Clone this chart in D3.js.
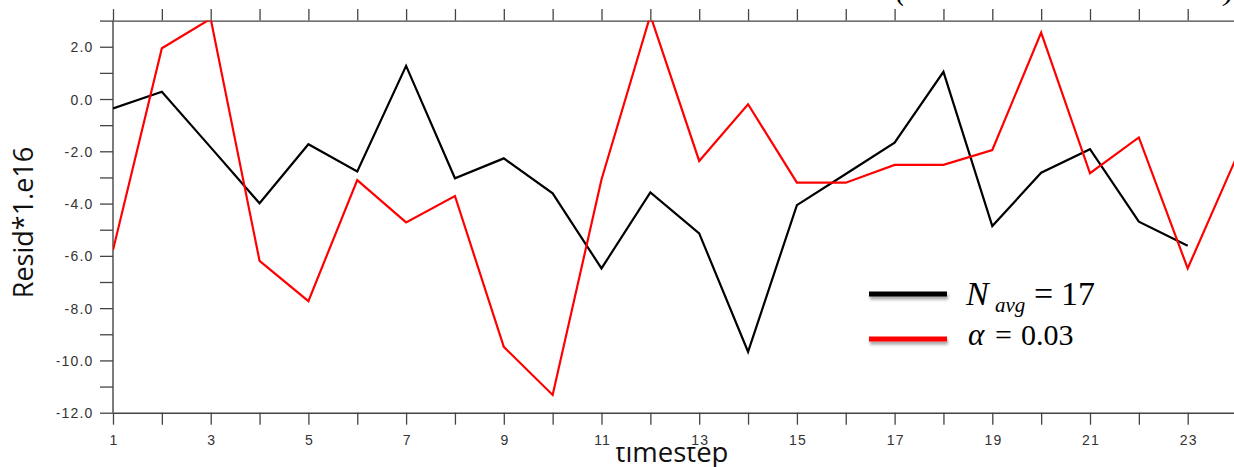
<!DOCTYPE html>
<html>
<head>
<meta charset="utf-8">
<script src="https://cdn.jsdelivr.net/npm/d3@7"></script>
<style>
  html, body { margin: 0; padding: 0; background: #fff; }
  svg { display: block; }
</style>
</head>
<body>
<svg id="chart" width="1234" height="467"></svg>
<script>
// Timesteps along the horizontal axis
const timesteps = d3.range(1, 25);

// Residual (scaled by 1e16) for the N_avg = 17 run
const residNavg = [
  -0.36, 0.28, -1.85, -3.99, -1.73, -2.77, 1.27, -3.03, -2.27, -3.61,
  -6.48, -3.57, -5.14, -9.67, -4.06, -2.87, -1.67, 1.04, -4.86, -2.82,
  -1.92, -4.69, -5.61
];

// Residual (scaled by 1e16) for the alpha = 0.03 run
const residAlpha = [
  -5.78, 1.94, 3.07, -6.19, -7.73, -3.10, -4.72, -3.71, -9.48, -11.32,
  -3.08, 3.2, -2.37, -0.20, -3.20, -3.20, -2.52, -2.52, -1.95, 2.54,
  -2.84, -1.47, -6.48, -2.22
];

// Axis ticks and labels
const xTicks = d3.range(1, 25);
const xLabels = d3.range(1, 24, 2);
const yTicks = d3.range(-12, 4);
const yLabels = d3.range(-12, 3, 2);

const svg = d3.select("#chart");
const W = 1234, H = 467;

const plotLeft = 113, plotTop = 20.6, plotBottom = 412.7, step = 48.85;
const x = d3.scaleLinear().domain([1, 25]).range([plotLeft, plotLeft + 24 * step]);
const y = d3.scaleLinear().domain([-12, 3]).range([plotBottom, plotTop]);

const axisColor = "#444";
const tickFont = "'Liberation Sans', Arial, sans-serif";

const defs = svg.append("defs");

// Axis title below the plot (its upper edge is masked by the label strip)
svg.append("text")
  .attr("x", 672).attr("y", 461.7)
  .attr("text-anchor", "middle")
  .attr("font-family", "'Open Sans', sans-serif")
  .attr("font-size", 27.5)
  .attr("fill", "#111")
  .text("timestep");
svg.append("rect")
  .attr("x", 600).attr("y", 428).attr("width", 140).attr("height", 19)
  .attr("fill", "#fff");

// Plot lines, clipped to the data area
defs.append("clipPath").attr("id", "plotArea")
  .append("rect")
  .attr("x", plotLeft).attr("y", plotTop)
  .attr("width", W - plotLeft).attr("height", plotBottom - plotTop);

const line = d3.line()
  .x((d, i) => x(timesteps[i]))
  .y(d => y(d));

// Axes
const gLeft = svg.append("g").attr("transform", `translate(${plotLeft},0)`)
  .call(d3.axisLeft(y).tickValues(yTicks).tickSize(13).tickSizeOuter(0)
    .tickPadding(8)
    .tickFormat(d => yLabels.includes(d) ? d.toFixed(1) : ""));
const gBottom = svg.append("g").attr("transform", `translate(0,${plotBottom})`)
  .call(d3.axisBottom(x).tickValues(xTicks).tickSize(12).tickSizeOuter(0)
    .tickPadding(10)
    .tickFormat(d => xLabels.includes(d) ? String(d) : ""));
const gTop = svg.append("g").attr("transform", `translate(0,${plotTop})`)
  .call(d3.axisTop(x).tickValues(xTicks).tickSize(11.5).tickSizeOuter(0)
    .tickFormat(""));

[gLeft, gBottom, gTop].forEach(g => {
  g.selectAll("path.domain").attr("stroke", axisColor).attr("stroke-width", 1.4);
  g.selectAll(".tick line").attr("stroke", axisColor).attr("stroke-width", 1.3);
  g.selectAll(".tick text")
    .attr("fill", "#333")
    .attr("font-family", tickFont)
    .attr("font-size", 14)
    .attr("letter-spacing", "1.2px");
});
gLeft.select("path.domain").attr("d", `M0,${plotTop}V${plotBottom}`);
gLeft.selectAll(".tick text").attr("x", -19.5).attr("dy", "0.36em");
gBottom.selectAll(".tick text").attr("y", 22.3).attr("dy", "0.71em").attr("dx", "0.6px");

const plot = svg.append("g").attr("clip-path", "url(#plotArea)");
plot.append("path")
  .datum(residNavg)
  .attr("d", line)
  .attr("fill", "none")
  .attr("stroke", "#000")
  .attr("stroke-width", 2.2)
  .attr("stroke-linejoin", "miter");
plot.append("path")
  .datum(residAlpha)
  .attr("d", line)
  .attr("fill", "none")
  .attr("stroke", "#ff0000")
  .attr("stroke-width", 2.2)
  .attr("stroke-linejoin", "miter");

// Vertical axis title on a white strip
svg.append("rect")
  .attr("x", 0).attr("y", 0).attr("width", 56.5).attr("height", H)
  .attr("fill", "#fff");
svg.append("text")
  .attr("transform", "translate(33,222.5) rotate(-90)")
  .attr("text-anchor", "middle")
  .attr("font-family", "'Open Sans', sans-serif")
  .attr("font-size", 27)
  .attr("fill", "#111")
  .text("Resid*1.e16");

// Partially visible heading at the top edge
const serif = "'Liberation Serif', 'Times New Roman', serif";
svg.append("text").attr("x", 896).attr("y", 0).attr("font-family", serif)
  .attr("font-size", 30).attr("font-style", "italic").attr("fill", "#000").text("(");
svg.append("text").attr("x", 1224).attr("y", 0).attr("font-family", serif)
  .attr("font-size", 30).attr("font-style", "italic").attr("fill", "#000").text(")");

// Legend
const shadow = defs.append("filter").attr("id", "legendShadow")
  .attr("filterUnits", "userSpaceOnUse")
  .attr("x", 850).attr("y", 270).attr("width", 120).attr("height", 100);
shadow.append("feDropShadow")
  .attr("dx", 1).attr("dy", 3).attr("stdDeviation", 1.6)
  .attr("flood-color", "#000").attr("flood-opacity", 0.35);

const legendItems = [
  { color: "#000", y: 294 },
  { color: "#ff0000", y: 339 }
];
svg.selectAll("line.legend")
  .data(legendItems)
  .join("line")
  .attr("class", "legend")
  .attr("x1", 869).attr("x2", 947)
  .attr("y1", d => d.y).attr("y2", d => d.y)
  .attr("stroke", d => d.color)
  .attr("stroke-width", 5)
  .attr("filter", "url(#legendShadow)");

const lg = svg.append("g").attr("font-family", serif).attr("fill", "#000");
lg.append("text").attr("x", 966).attr("y", 305).attr("font-size", 34)
  .attr("font-style", "italic").text("N");
lg.append("text").attr("x", 995).attr("y", 312).attr("font-size", 21)
  .attr("font-style", "italic").text("avg");
lg.append("text").attr("x", 1034).attr("y", 305).attr("font-size", 34).text("=");
lg.append("text").attr("x", 1061).attr("y", 305).attr("font-size", 34).text("17");
lg.append("text").attr("x", 968).attr("y", 345).attr("font-size", 31)
  .attr("font-style", "italic").text("α");
lg.append("text").attr("x", 995).attr("y", 345).attr("font-size", 30).text("=");
lg.append("text").attr("x", 1021).attr("y", 345).attr("font-size", 30).text("0.03");
</script>
</body>
</html>
